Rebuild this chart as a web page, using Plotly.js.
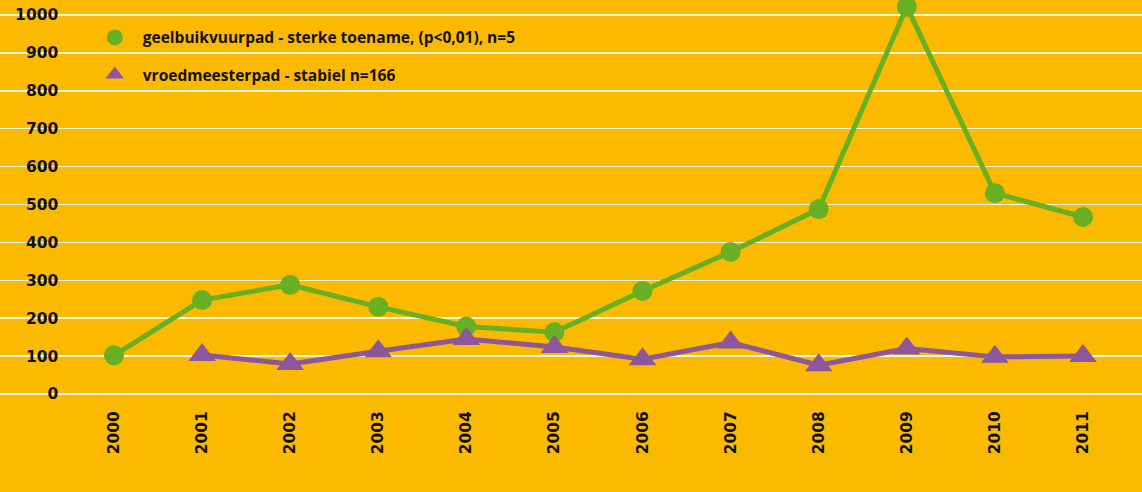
<!DOCTYPE html>
<html><head><meta charset="utf-8">
<script src="https://cdn.plot.ly/plotly-3.0.1.min.js"></script>
<style>html,body{margin:0;padding:0;background:#FBBA00;}#chart{width:1142px;height:492px;}</style>
</head><body><div id="chart"></div>
<script>
const years = [2000,2001,2002,2003,2004,2005,2006,2007,2008,2009,2010,2011];
const geelbuikName = "geelbuikvuurpad - sterke toename, (p<0,01), n=5";
const geelbuik = [102,248,288,230,178,163,272,375,488,1022,530,467];
const vroedName = "vroedmeesterpad - stabiel n=166";
const vroed = [null,103,79,113,145,124,92,136,76,120,98,100];
const yTicks = [0,100,200,300,400,500,600,700,800,900,1000];

const green = "#67AF23", purple = "#8C579C";
const tickFont = {family:"DejaVu Sans, sans-serif", size:15.5, color:"#111", weight:700};

const traces = [
  {x:years, y:geelbuik, mode:"lines+markers", name:geelbuikName, showlegend:false, cliponaxis:false,
   line:{color:green, width:5}, marker:{symbol:"circle", size:20, color:green}},
  {x:years, y:vroed, mode:"lines+markers", name:vroedName, showlegend:false, cliponaxis:false,
   line:{color:purple, width:5}, marker:{symbol:"triangle-up", size:24, color:purple}},
  {x:[null], y:[null], mode:"markers", name:geelbuikName, legendgroup:"a",
   marker:{symbol:"circle", size:20, color:green}},
  {x:[null], y:[null], mode:"markers", name:vroedName, legendgroup:"b",
   marker:{symbol:"triangle-up", size:24, color:purple}}
];

const layout = {
  width:1142, height:492,
  paper_bgcolor:"#FBBA00", plot_bgcolor:"#FBBA00",
  margin:{l:0, r:0, t:0, b:92},
  font:{family:"Open Sans, sans-serif", size:15.5, color:"#111", weight:700},
  xaxis:{range:[1998.706, 2011.67], tickvals:years, ticktext:years.map(String), tickangle:-90,
    showgrid:false, zeroline:false, showline:false, ticks:"", ticklabelstandoff:7,
    tickfont:tickFont},
  yaxis:{range:[-15.8, 1039.6], tickvals:yTicks, anchor:"free", position:0.051, side:"left",
    showgrid:true, gridcolor:"rgba(255,255,255,0.9)", gridwidth:1.5, zeroline:false, showline:false, ticks:"",
    tickfont:tickFont},
  legend:{x:0.076, y:0.948, xanchor:"left", yanchor:"top", bgcolor:"rgba(0,0,0,0)", tracegroupgap:14,
    itemwidth:46,
    font:{family:"Open Sans, sans-serif", size:15.5, color:"#111", weight:700}},
  showlegend:true
};
Plotly.newPlot("chart", traces, layout, {displayModeBar:false, staticPlot:true});
</script></body></html>
